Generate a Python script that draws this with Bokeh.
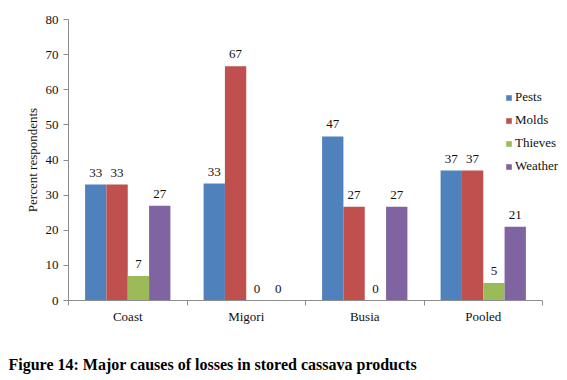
from bokeh.plotting import figure
from bokeh.models import ColumnDataSource, FixedTicker, Range1d, Legend, LegendItem, Title
from bokeh.embed import file_html
from bokeh.resources import INLINE
from bokeh.core.properties import value

categories = ["Coast", "Migori", "Busia", "Pooled"]
series = ["Pests", "Molds", "Thieves", "Weather"]
pests = [33.0, 33.3, 46.7, 37.0]
molds = [33.0, 66.7, 26.7, 37.0]
thieves = [7.0, 0.0, 0.0, 5.0]
weather = [27.0, 0.0, 26.7, 21.0]
colors = ["#4F81BD", "#C0504D", "#9BBB59", "#8064A2"]
y_ticks = [0, 10, 20, 30, 40, 50, 60, 70, 80]

FONT = "Liberation Serif"
n = len(categories)

p = figure(width=567, height=380, output_backend="svg", toolbar_location=None,
           x_range=Range1d(0, n * 499 / 474), y_range=Range1d(0, 80),
           min_border_left=68, min_border_right=0, min_border_top=19, min_border_bottom=80)
p.outline_line_color = None
p.grid.visible = False

offsets = [-0.27, -0.09, 0.09, 0.27]
bw = 0.18
items = []
for name, vals, col, off in zip(series, [pests, molds, thieves, weather], colors, offsets):
    xs = [i + 0.5 + off for i in range(n)]
    src = ColumnDataSource(dict(x=xs, top=vals, lab=[str(int(round(v))) for v in vals]))
    r = p.vbar(x="x", top="top", width=bw, source=src, fill_color=col, line_color=None)
    p.text(x="x", y="top", text="lab", source=src, text_align="center", text_baseline="bottom",
           y_offset=-8, text_font=value(FONT), text_font_size="13px", text_color="#111111")
    items.append(LegendItem(label=name, renderers=[r]))

legend = Legend(items=items, location=(437, 124), padding=0, margin=0, spacing=3,
                label_height=20, glyph_width=7, glyph_height=7, label_standoff=3,
                label_text_font=FONT, label_text_font_size="13px", label_text_color="#111111",
                border_line_color=None, background_fill_alpha=0)
p.add_layout(legend, "center")

# x axis: labels at category centres, tick marks at category boundaries
xa = p.xaxis[0]
xa.bounds = (0, n)
xa.ticker = FixedTicker(ticks=[i + 0.5 for i in range(n)], minor_ticks=list(range(n + 1)))
xa.major_label_overrides = {i + 0.5: c for i, c in enumerate(categories)}
xa.major_tick_line_color = None
xa.minor_tick_in = 0
xa.minor_tick_out = 5
xa.minor_tick_line_color = "#8c8c8c"
xa.axis_line_color = "#8c8c8c"
xa.major_label_text_font = FONT
xa.major_label_text_font_size = "13px"
xa.major_label_text_color = "#111111"
xa.major_label_standoff = 2

ya = p.yaxis[0]
ya.ticker = FixedTicker(ticks=y_ticks)
ya.minor_tick_line_color = None
ya.major_tick_in = 0
ya.major_tick_out = 5
ya.major_tick_line_color = "#8c8c8c"
ya.axis_line_color = "#8c8c8c"
ya.major_label_text_font = FONT
ya.major_label_text_font_size = "13px"
ya.major_label_text_color = "#111111"
ya.major_label_standoff = 5
ya.axis_label = "Percent respondents"
ya.axis_label_text_font = FONT
ya.axis_label_text_font_size = "13px"
ya.axis_label_text_font_style = "normal"
ya.axis_label_text_color = "#111111"
ya.axis_label_standoff = 3

caption = Title(text="Figure 14: Major causes of losses in stored cassava products",
                align="left", offset=-60, standoff=0, vertical_align="bottom",
                padding=dict(top=27, right=0, bottom=0, left=0), text_font=FONT,
                text_font_size="16px", text_font_style="bold", text_color="#000000")
p.add_layout(caption, "below")

open("out.html", "w").write(file_html(p, INLINE))
